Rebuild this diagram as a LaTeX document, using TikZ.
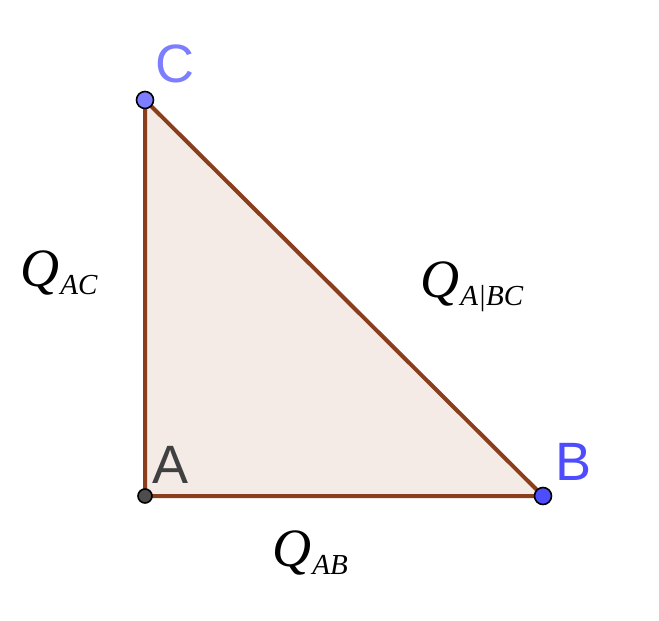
\documentclass[tikz,border=0pt]{standalone}
\usepackage{fontspec}
\setmainfont{Liberation Sans}
\newfontfamily\qfont{Liberation Serif}
\usepackage{tikz}
\usetikzlibrary{positioning}
\definecolor{edgebrown}{RGB}{138,62,28}
\definecolor{triFill}{RGB}{244,235,230}
\definecolor{pointC}{RGB}{125,125,255}
\definecolor{pointB}{RGB}{77,77,255}
\definecolor{pointA}{RGB}{77,77,77}
\definecolor{labelA}{RGB}{64,64,64}
\newcommand{\qlab}[1]{{\qfont\itshape\fontsize{27}{27}\selectfont Q\kern0.5pt\raisebox{-4pt}{\fontsize{14.5}{14.5}\selectfont #1}}}

\begin{document}
\begin{tikzpicture}[x=0.5pt,y=-0.5pt,
                    point/.style={circle,draw=black,line width=0.8pt,inner sep=0pt,minimum size=8.5pt},
                    vertex label/.style={anchor=base west,inner sep=0pt,font=\fontsize{27}{27}\selectfont},
                    side label/.style={anchor=base west,inner sep=0pt}]
  \useasboundingbox (0,0) rectangle (659,621);
  % Vertices
    \coordinate (A) at (145,496);
    \coordinate (B) at (543,496);
    \coordinate (C) at (145,100);

  % Triangle
    \fill[triFill] (A) -- (B) -- (C) -- cycle;
    \draw[edgebrown,line width=2pt,line join=round] (A) -- (B) -- (C) -- cycle;

  % Points
    \node[point,fill=pointC] (pC) at (C) {};
    \node[point,fill=pointB] (pB) at (B) {};
    \node[point,fill=pointA,minimum size=7pt] (pA) at (A) {};

  % Vertex labels
    \node[vertex label,text=pointC] (lblC) at (155,83) {C};
    \node[vertex label,text=labelA] (lblA) at (152,483) {A};
    \node[vertex label,text=pointB] (lblB) at (555,480) {B};

  % Side labels
    \node[side label] (qAC) at (20,286) {\qlab{AC}};
    \node[side label] (qBC) at (420,297) {\qlab{A|BC}};
    \node[side label] (qAB) at (272,566) {\qlab{AB}};
\end{tikzpicture}
\end{document}
